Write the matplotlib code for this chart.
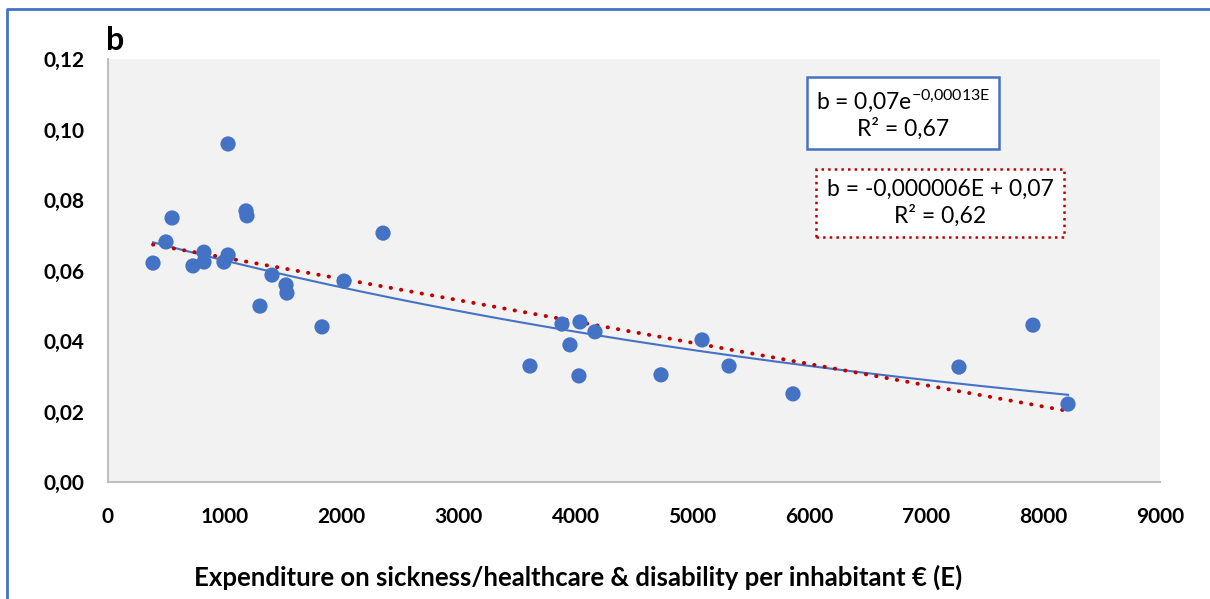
import numpy as np
import matplotlib
matplotlib.use('Agg')
import matplotlib.pyplot as plt
from matplotlib.lines import Line2D
from matplotlib.ticker import FuncFormatter, MultipleLocator

# expenditure per inhabitant (E) and b
expenditure = [385, 496, 548, 727, 821, 821, 992, 1027, 1027, 1181, 1189,
               1300, 1403, 1523, 1531, 1831, 2019, 2353, 3610, 3884, 3952,
               4029, 4038, 4166, 4731, 5082, 5313, 5860, 7280, 7913, 8213]
b_values = [0.0621, 0.0681, 0.0749, 0.0613, 0.0652, 0.0624, 0.0624, 0.0644,
            0.0959, 0.0769, 0.0755, 0.0499, 0.0587, 0.0559, 0.0536, 0.0440,
            0.0570, 0.0706, 0.0329, 0.0448, 0.0389, 0.0301, 0.0454, 0.0426,
            0.0304, 0.0403, 0.0329, 0.0250, 0.0326, 0.0445, 0.0221]

exp_label = 'b = 0,07e$^{-0{,}00013E}$\nR² = 0,67'
lin_label = 'b = -0,000006E + 0,07\nR² = 0,62'
x_label = 'Expenditure on sickness/healthcare & disability per inhabitant € (E)'

plt.rcParams['font.family'] = ['Lato', 'DejaVu Sans']
plt.rcParams['mathtext.fontset'] = 'custom'
plt.rcParams['mathtext.rm'] = 'Lato'
plt.rcParams['mathtext.default'] = 'regular'

W, H = 1210, 599
fig = plt.figure(figsize=(W / 100, H / 100), dpi=100)
ax = fig.add_axes([108 / W, (H - 482) / H, 1052 / W, 423 / H])
ax.set_facecolor('#F2F2F2')

x = np.array(expenditure)
y = np.array(b_values)

# trendlines the way excel does them
xs = np.linspace(x.min(), x.max(), 200)
k, ln_a = np.polyfit(x, np.log(y), 1)
ax.plot(xs, np.exp(ln_a) * np.exp(k * xs), color='#4472C4', lw=1.5, zorder=2)
m, c = np.polyfit(x, y, 1)
ax.plot(xs, m * xs + c, color='#C00000', lw=2.8, linestyle=(0, (0.1, 2.6)),
        dash_capstyle='round', zorder=3)

ax.scatter(x, y, s=120, color='#4472C4', edgecolors='none', zorder=4)

ax.set_xlim(0, 9000)
ax.set_ylim(0, 0.12)
ax.xaxis.set_major_locator(MultipleLocator(1000))
ax.yaxis.set_major_locator(MultipleLocator(0.02))
ax.yaxis.set_major_formatter(FuncFormatter(lambda v, p: f'{v:.2f}'.replace('.', ',')))
ax.tick_params(length=0, labelsize=15)
ax.tick_params(axis='y', pad=17)
ax.tick_params(axis='x', pad=18)
for lab in ax.get_xticklabels() + ax.get_yticklabels():
    lab.set_fontweight('bold')

for s in ['top', 'right']:
    ax.spines[s].set_visible(False)
for s in ['left', 'bottom']:
    ax.spines[s].set_color('#BFBFBF')
    ax.spines[s].set_linewidth(1.5)

fig.text(578 / W, 1 - 577 / H, x_label, ha='center', va='center',
         fontsize=18.5, fontweight='bold')
fig.text(106 / W, 1 - 40 / H, 'b', ha='left', va='center',
         fontsize=23, fontweight='bold')

fig.text(903 / W, 1 - 114 / H, exp_label, ha='center', va='center',
         ma='center', fontsize=16.5, linespacing=1.2,
         bbox=dict(boxstyle='square,pad=0.4', fc='white', ec='#4472C4', lw=1.8))
fig.text(940 / W, 1 - 203 / H, lin_label, ha='center', va='center',
         ma='center', fontsize=16.5, linespacing=1.25,
         bbox=dict(boxstyle='square,pad=0.45', fc='white', ec='#C00000', lw=1.8,
                   ls=':'))

# outer chart frame (only left and top edges are in the crop)
fig.lines.append(Line2D([7 / W, 7 / W, 1.0], [0.0, 1 - 9 / H, 1 - 9 / H],
                        transform=fig.transFigure, color='#4472C4', lw=2))

fig.savefig('out.png', dpi=100)
